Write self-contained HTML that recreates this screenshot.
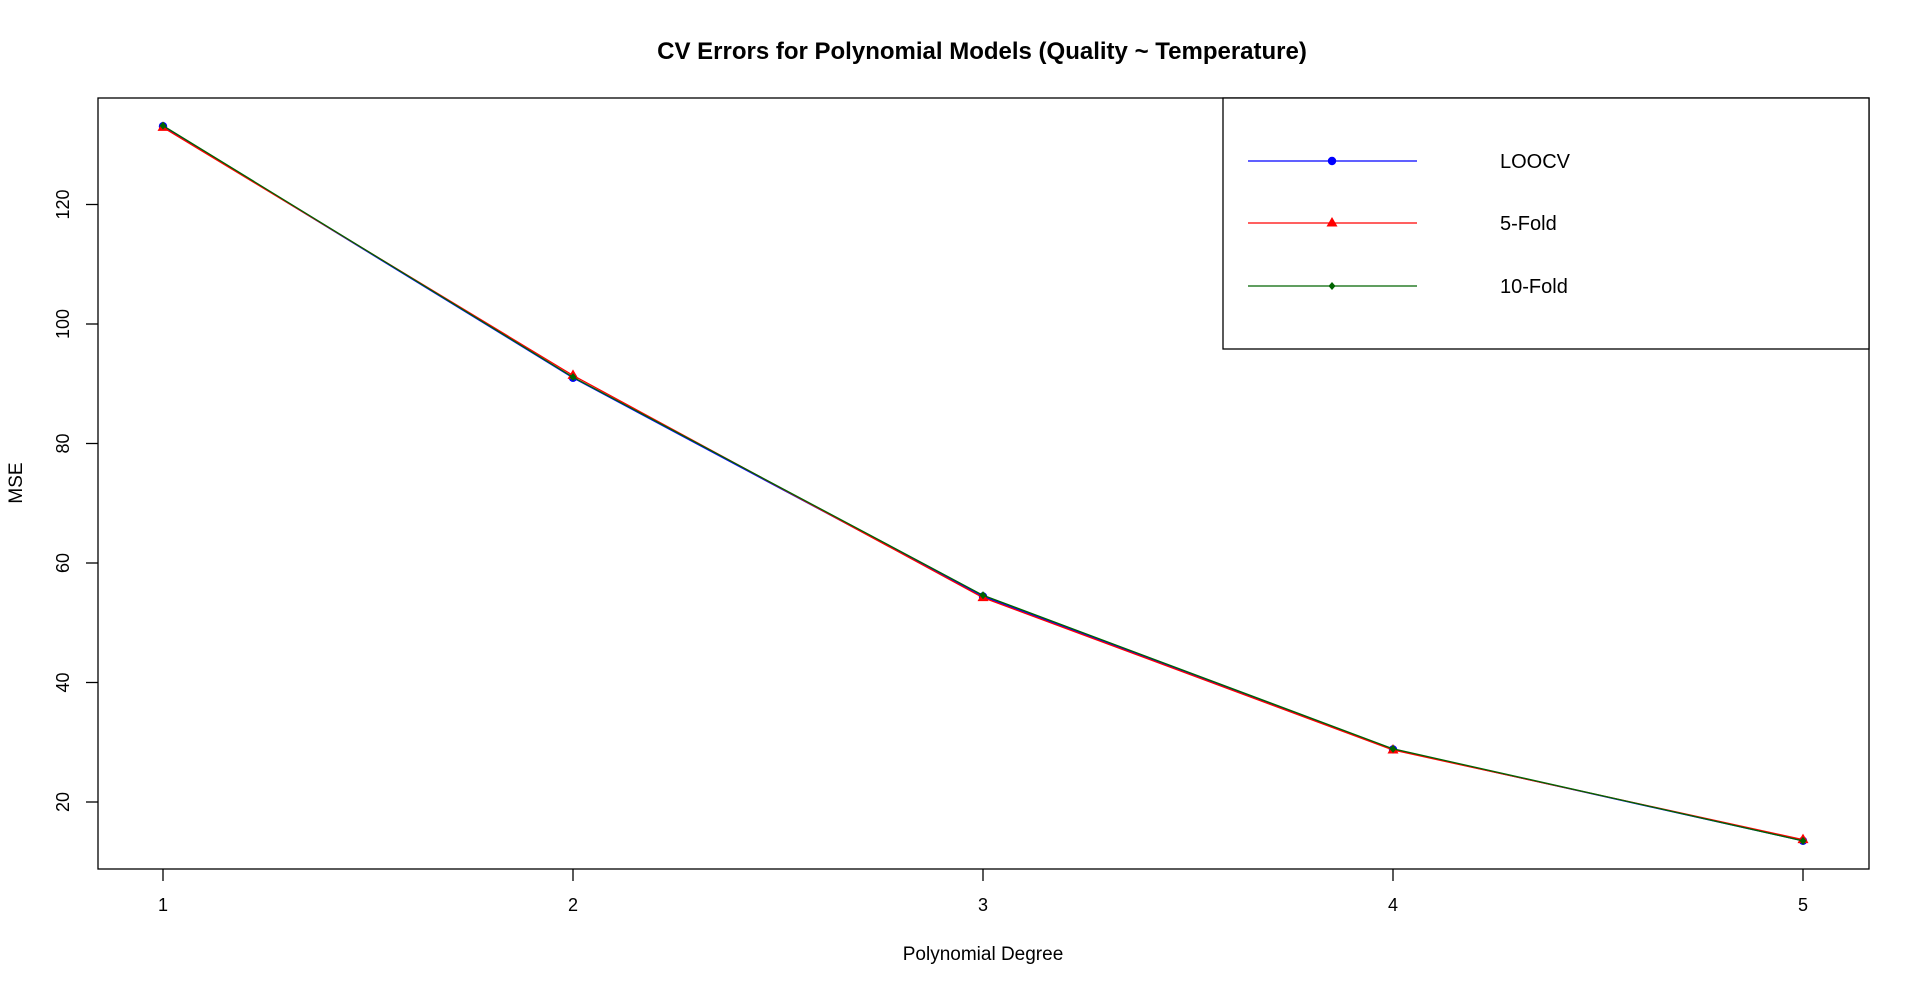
<!DOCTYPE html>
<html><head><meta charset="utf-8"><style>
html,body{margin:0;padding:0;background:#fff;}
svg{display:block;font-family:"Liberation Sans",Arial,sans-serif;}
</style></head><body>
<svg id="chart" width="1920" height="992" viewBox="0 0 1920 992">
<text x="982" y="59" font-size="24" font-weight="bold" text-anchor="middle">CV Errors for Polynomial Models (Quality ~ Temperature)</text>
<rect x="98" y="98" width="1771" height="771" fill="none" stroke="#000" stroke-width="1.3"/>
<g id="xaxis"></g>
<g id="yaxis"></g>
<text x="983" y="960" font-size="19" text-anchor="middle">Polynomial Degree</text>
<text transform="translate(22,483) rotate(-90)" font-size="19" text-anchor="middle">MSE</text>
<g id="series"></g>
<g>
<rect x="1223" y="98" width="646" height="251" fill="#fff" stroke="#000" stroke-width="1.3"/>
<g id="legend-items"></g>
</g>
</svg>
<script>
const degrees = [1, 2, 3, 4, 5];
const loocv = [133.1, 91.0, 54.4, 28.8, 13.5];
const fold5 = [132.9, 91.4, 54.2, 28.7, 13.7];
const fold10 = [133.2, 91.1, 54.6, 28.9, 13.5];
const yTicks = [20, 40, 60, 80, 100, 120];
const seriesNames = ["LOOCV", "5-Fold", "10-Fold"];

const NS = "http://www.w3.org/2000/svg";
function xs(v){ return 163 + (v - 1) * 410; }
function ys(v){ return 802 - (v - 20) * 5.975; }
function mk(tag, attrs, parent){ const e = document.createElementNS(NS, tag); for (const k in attrs) e.setAttribute(k, attrs[k]); parent.appendChild(e); return e; }

const xg = document.getElementById('xaxis');
degrees.forEach(d => {
  const t = mk('line', {x1: xs(d), x2: xs(d), y1: 869, y2: 881, stroke: '#000', 'stroke-width': 1.3}, xg);
  
  
  const l = mk('text', {x: xs(d), y: 911, 'font-size': 18, 'text-anchor': 'middle'}, xg);
  
  
  l.textContent = d;
});
const yg = document.getElementById('yaxis');
yTicks.forEach(v => {
  const t = mk('line', {x1: 86, x2: 98, y1: ys(v), y2: ys(v), stroke: '#000', 'stroke-width': 1.3}, yg);
  
  
  const l = mk('text', {transform: `translate(69,${ys(v)}) rotate(-90)`, 'font-size': 18, 'text-anchor': 'middle'}, yg);
  
  
  l.textContent = v;
});

function marker(shape, cx, cy, color, parent){
  let e;
  if (shape === 'circle') e = mk('circle', {cx: cx, cy: cy, r: 4.2, fill: color}, parent);
  else if (shape === 'tri') e = mk('polygon', {points: `${cx},${cy-6} ${cx-5.5},${cy+3.5} ${cx+5.5},${cy+3.5}`, fill: color}, parent);
  else e = mk('polygon', {points: `${cx},${cy-4} ${cx+3.5},${cy} ${cx},${cy+4} ${cx-3.5},${cy}`, fill: color}, parent);
  return e;
}

const sg = document.getElementById('series');
const defs = [[loocv, '#0000ff', 'circle', 'loocv'], [fold5, '#ff0000', 'tri', '5-fold'], [fold10, '#006400', 'diamond', '10-fold']];
defs.forEach(([vals, col, shape, nm]) => {
  const pts = vals.map((v, i) => xs(degrees[i]) + ',' + ys(v)).join(' ');
  const pl = mk('polyline', {points: pts, fill: 'none', stroke: col, 'stroke-width': 1.3}, sg);
  
  
  vals.forEach((v, i) => {
    const m = marker(shape, xs(degrees[i]), ys(v), col, sg);
    
    
  });
});

const lg = document.getElementById('legend-items');
const ly = [161, 223, 286];
defs.forEach(([vals, col, shape, nm], i) => {
  const l = mk('line', {x1: 1248, x2: 1417, y1: ly[i], y2: ly[i], stroke: col, 'stroke-width': 1.3}, lg);
  
  
  const m = marker(shape, 1332, ly[i], col, lg);
  
  
  const t = mk('text', {x: 1500, y: ly[i] + 7, 'font-size': 20}, lg);
  
  
  t.textContent = seriesNames[i];
});
</script>
</body></html>
